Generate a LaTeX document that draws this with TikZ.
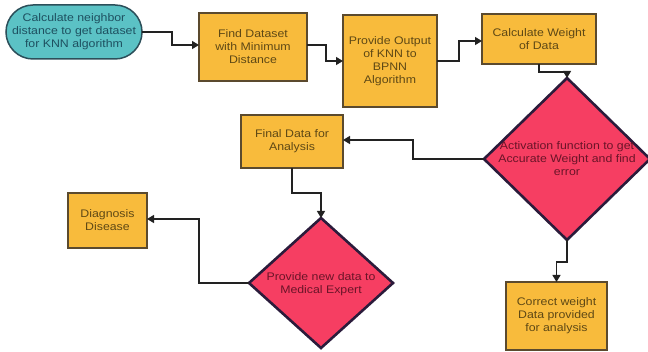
\documentclass[tikz,border=0pt]{standalone}
\usepackage{fontspec}
\setmainfont{Liberation Sans}[FakeStretch=1.12]
\usetikzlibrary{shapes.geometric,arrows.meta}
\definecolor{boxfill}{HTML}{F8BB3C}
\definecolor{boxline}{HTML}{5B4A2E}
\definecolor{boxtext}{HTML}{5E4815}
\definecolor{dfill}{HTML}{F63E62}
\definecolor{dline}{HTML}{2B1B3B}
\definecolor{dtext}{HTML}{6A1428}
\definecolor{pfill}{HTML}{5BC2C5}
\definecolor{pline}{HTML}{2C4F5A}
\definecolor{ptext}{HTML}{1E5060}
\definecolor{conn}{HTML}{222222}
\tikzset{
  every node/.style={font=\fontsize{11}{13}\selectfont, align=center, inner sep=0pt, outer sep=0pt},
  obox/.style={draw=boxline, fill=boxfill, line width=1.3pt, text=boxtext},
  pill/.style={draw=pline, fill=pfill, line width=1.5pt, text=ptext, rounded corners=27pt,
    minimum width=136pt, minimum height=54pt},
  dia/.style={diamond, draw=dline, fill=dfill, line width=2.6pt},
  dlabel/.style={text=dtext},
  arr/.style={draw=conn, line width=1.3pt, -{Triangle[length=7pt,width=8pt]}},
}
\begin{document}
\begin{tikzpicture}[x=1pt, y=-1pt]
\useasboundingbox (0,0) rectangle (648,352);
\node[pill] (pill) at (74,32) {\fontsize{11}{12.5}\selectfont Calculate neighbor\\distance to get dataset\\for KNN algorithm};
\node[obox, minimum width=108pt, minimum height=68pt] (find) at (253,47) {Find Dataset\\with Minimum\\Distance};
\node[obox, minimum width=94pt, minimum height=92pt] (prov) at (390,61) {Provide Output\\of KNN to\\BPNN\\Algorithm};
\node[obox, minimum width=114pt, minimum height=50pt] (calc) at (539,39) {Calculate Weight\\of Data};
\node[dia, minimum width=166pt, minimum height=162pt] (act) at (567,159) {};
\node[dlabel] (actt) at (567,159) {Activation function to get\\Accurate Weight and find\\error};
\node[obox, minimum width=102pt, minimum height=53pt] (final) at (292,141.5) {Final Data for\\Analysis};
\node[dia, minimum width=144pt, minimum height=130pt] (pnew) at (321,283) {};
\node[dlabel] (pnewt) at (321,284) {Provide new data to\\Medical Expert};
\node[obox, minimum width=79pt, minimum height=55pt] (diag) at (107.5,220.5) {Diagnosis\\Disease};
\node[obox, minimum width=101pt, minimum height=68pt] (corr) at (556.5,316) {Correct weight\\Data provided\\for analysis};

\draw[arr] (pill.east) -- (172,32) |- (find.west |- 0,45);
\draw[arr] (find.east |- 0,45) -- (326,45) |- (prov.west);
\draw[arr] (prov.east) -- (459,61) |- (calc.west |- 0,41);
\draw[arr] (calc.south) -- (539,72) -| (act.north);
\draw[arr] (act.west) -- (413,159) |- (final.east |- 0,140);
\draw[arr] (final.south) -- (292,193) -| (pnew.north);
\draw[arr] (pnew.west) -- (199,283) |- (diag.east |- 0,219);
\draw[arr] (act.south) -- (567,262) -| (corr.north);
\end{tikzpicture}
\end{document}
